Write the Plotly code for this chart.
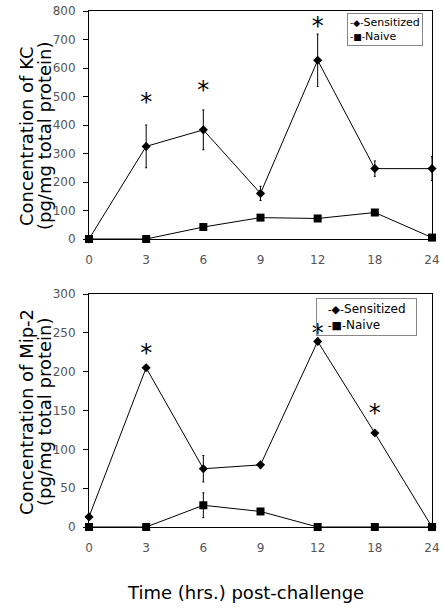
import plotly.graph_objects as go

times = ["0", "3", "6", "9", "12", "18", "24"]

kc_sens = [0, 325, 383, 160, 627, 247, 247]
kc_sens_err = [0, 75, 70, 25, 92, 27, 42]
kc_naive = [0, 0, 42, 75, 72, 93, 5]
kc_star_t = ["3", "6", "12"]
kc_star_y = [474, 516, 740]

mip_sens = [13, 205, 75, 80, 239, 121, 0]
mip_sens_err = [0, 0, 17, 0, 0, 0, 0]
mip_naive = [0, 0, 28, 20, 0, 0, 0]
mip_naive_err = [0, 0, 16, 0, 0, 0, 0]
mip_star_t = ["3", "12", "18"]
mip_star_y = [221, 247, 144]

series_names = ["Sensitized", "Naive"]

FONT = "DejaVu Sans"
fig = go.Figure()

def add_panel(sens, sens_err, naive, naive_err, st, sy, xa, ya):
    fig.add_trace(go.Scatter(
        x=times, y=sens, mode="lines+markers", name=series_names[0],
        line=dict(color="black", width=1),
        marker=dict(symbol="diamond", size=7, color="black"),
        error_y=dict(type="data", array=sens_err, symmetric=True, color="black", thickness=1, width=1),
        xaxis=xa, yaxis=ya, cliponaxis=False))
    fig.add_trace(go.Scatter(
        x=times, y=naive, mode="lines+markers", name=series_names[1],
        line=dict(color="black", width=1),
        marker=dict(symbol="square", size=8, color="black"),
        error_y=dict(type="data", array=naive_err, symmetric=True, color="black", thickness=1, width=1),
        xaxis=xa, yaxis=ya, cliponaxis=False))
    fig.add_trace(go.Scatter(
        x=st, y=sy, mode="text", text=["*"] * len(st),
        textfont=dict(family=FONT, size=24, color="black"),
        xaxis=xa, yaxis=ya, hoverinfo="skip", cliponaxis=False))

add_panel(kc_sens, kc_sens_err, kc_naive, [0] * 7, kc_star_t, kc_star_y, "x", "y")
add_panel(mip_sens, mip_sens_err, mip_naive, mip_naive_err, mip_star_t, mip_star_y, "x2", "y2")

W, H = 445, 611
def px(x):
    return x / W
def py(y):
    return 1 - y / H

xdom = [px(89), px(432)]
common = dict(showline=True, linecolor="black", linewidth=1, mirror=True,
              showgrid=False, zeroline=False, automargin=False, ticklabeloverflow="allow",
              tickfont=dict(family=FONT, size=12, color="#555"))
xcommon = dict(ticks="outside", ticklen=10, tickcolor="rgba(0,0,0,0)", type="category", range=[0, 6], **common)
ycommon = dict(ticks="outside", ticklen=5, tickcolor="black", ticklabelstandoff=5, **common)

fig.update_layout(
    width=W, height=H, margin=dict(l=0, r=0, t=0, b=0),
    paper_bgcolor="white", plot_bgcolor="white", showlegend=False,
    xaxis=dict(domain=xdom, anchor="y", **xcommon),
    yaxis=dict(domain=[py(239), py(11)], anchor="x", range=[0, 800], dtick=100, **ycommon),
    xaxis2=dict(domain=xdom, anchor="y2", **xcommon),
    yaxis2=dict(domain=[py(527), py(294)], anchor="x2", range=[0, 300], dtick=50, **ycommon),
)

def legend_box(x0, y0, size, symsize, pad, bpad, bg):
    sym = f"<span style='font-size:{symsize}px'>-◆-</span>"
    sym2 = f"<span style='font-size:{symsize}px'>-■-</span>"
    txt = pad + sym + series_names[0] + pad + "<br>" + pad + sym2 + series_names[1]
    fig.add_annotation(text=txt, x=px(x0), y=py(y0), xref="paper", yref="paper",
                       xanchor="left", yanchor="top", align="left", showarrow=False,
                       bordercolor="#888", borderwidth=1, borderpad=bpad, bgcolor=bg,
                       font=dict(family=FONT, size=size, color="black"))

legend_box(347, 13, 11, 9, "", 2, "white")
legend_box(316, 298, 12, 11, "&nbsp;&nbsp;", 3, "rgba(255,255,255,0)")

def ytitle(l1, l2, yc):
    fig.add_annotation(text=l1, x=px(26), y=py(yc), xref="paper", yref="paper", textangle=-90,
                       showarrow=False, font=dict(family=FONT, size=18, color="black"),
                       xanchor="center", yanchor="middle")
    fig.add_annotation(text=l2, x=px(44), y=py(yc), xref="paper", yref="paper", textangle=-90,
                       showarrow=False, font=dict(family=FONT, size=18, color="black"),
                       xanchor="center", yanchor="middle")

ytitle("Concentration of KC", "(pg/mg total protein)", 136)
ytitle("Concentration of Mip-2", "(pg/mg total protein)", 412)

fig.add_annotation(text="Time (hrs.) post-challenge", x=px(245), y=py(592),
                   xref="paper", yref="paper", showarrow=False,
                   font=dict(family=FONT, size=18, color="black"), xanchor="center", yanchor="middle")

fig.write_html("out.html", config={"displayModeBar": False},
               post_script="document.body.style.margin='0';")
